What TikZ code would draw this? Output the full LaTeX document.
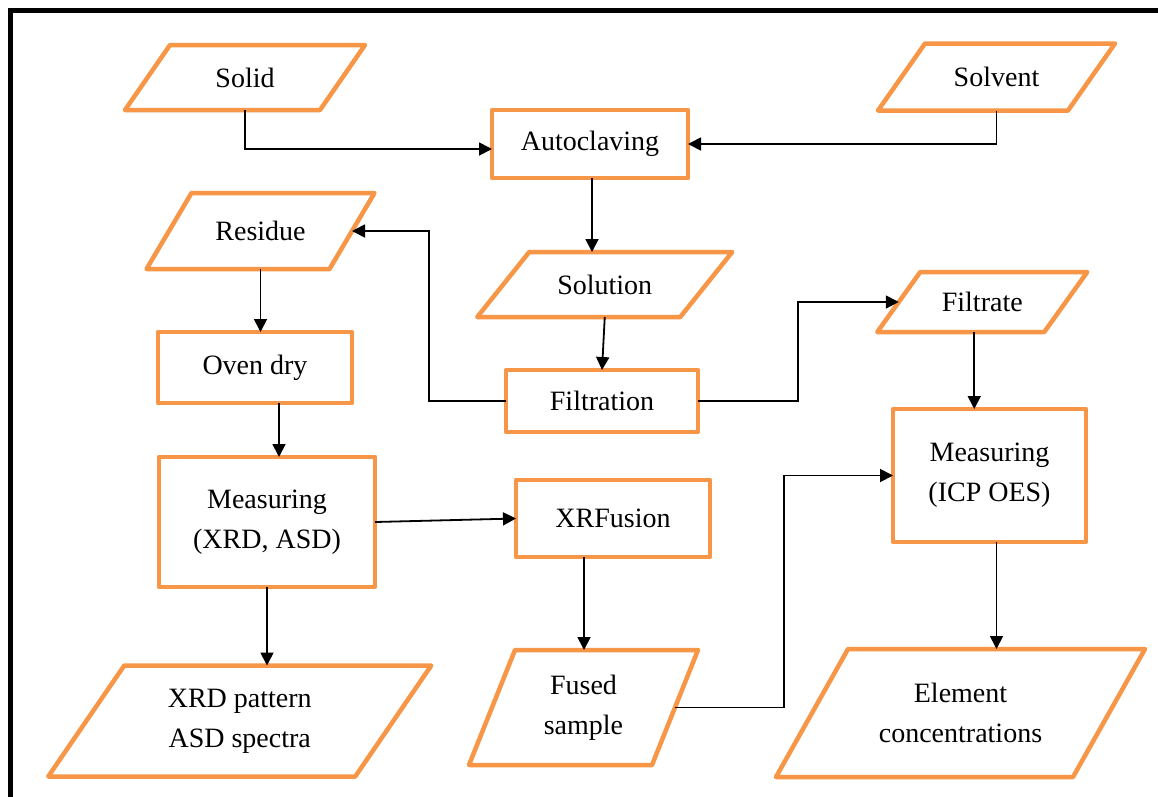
\documentclass[tikz,border=0pt]{standalone}
\usepackage{fontspec}
\setmainfont{Liberation Serif}
\usetikzlibrary{arrows.meta,calc}
\definecolor{boxorange}{HTML}{F79646}
\tikzset{
  obox/.style={draw=boxorange, line width=4.5pt, line join=round},
  rbox/.style={obox, rectangle, outer sep=0pt, inner sep=2pt, align=center,
    font=\rmfamily\fontsize{28}{40}\selectfont},
  ptext/.style={rectangle, draw=none, outer sep=0pt, inner sep=2pt, align=center,
    font=\rmfamily\fontsize{28}{40}\selectfont},
  conn/.style={line width=1.8pt, -{Triangle[length=13pt,width=13pt]}},
  frameline/.style={line width=5pt, draw=black}
}
% name, center, side width, height, half offset, text
\newcommand\parabox[6]{%
  \node[ptext, minimum width=#3pt, minimum height=#4pt] (#1) at (#2) {#6};
  \draw[obox] ($(#1.south west)+(-#5,0)$) -- ($(#1.south east)+(-#5,0)$)
    -- ($(#1.north east)+(#5,0)$) -- ($(#1.north west)+(#5,0)$) -- cycle;
}
\begin{document}
\begin{tikzpicture}[x=1pt,y=-1pt]
\clip (0,0) rectangle (1158,796);
\fill[white] (0,0) rectangle (1158,796);
\draw[frameline] (10.5,10.5) rectangle (1200,850);

% input/output parallelograms
\parabox{solid}{245,77.5}{195}{65}{22.5}{Solid}
\parabox{solvent}{996.5,77}{190}{67}{23.5}{Solvent}
\parabox{res}{260.5,231}{183}{76}{22.5}{Residue}
\parabox{sol}{604.75,284.5}{203}{65}{26}{Solution}
\parabox{filtrate}{982.25,302}{167}{60}{21.5}{Filtrate}
\parabox{xrdp}{239.75,721}{307}{111}{38}{XRD pattern\\ASD spectra}
\parabox{fused}{583.5,707.5}{183}{115}{23}{Fused\\sample}
\parabox{elem}{960.5,713}{297}{128}{36}{Element\\concentrations}

% process boxes
\node[rbox, minimum width=196pt, minimum height=68pt] (auto) at (590,144) {Autoclaving};
\node[rbox, minimum width=192pt, minimum height=62pt] (filt) at (602,401) {Filtration};
\node[rbox, minimum width=194pt, minimum height=71pt] (oven) at (255,367.5) {Oven dry};
\node[rbox, minimum width=216pt, minimum height=130pt] (mxrd) at (267,522) {Measuring\\(XRD, ASD)};
\node[rbox, minimum width=194pt, minimum height=77pt] (xrf) at (613,518.5) {XRFusion};
\node[rbox, minimum width=193pt, minimum height=133pt] (icp) at (989.5,475.5) {Measuring\\(ICP OES)};

% connectors
\draw[conn] (solid.south) |- ([yshift=-5pt]auto.west);
\draw[conn] (solvent.south) |- (auto.east);
\draw[conn] ([xshift=2pt]auto.south) -- ([xshift=2pt]auto.south |- sol.north);
\draw[conn] (sol.south) -- (filt.north);
\draw[conn] (filt.west) -- ++(-77,0) |- (res.east);
\draw[conn] (filt.east) -- ++(100,0) |- (filtrate.west);
\draw[conn] (res.south) -- (res.south |- oven.north);
\draw[conn] ([xshift=24pt]oven.south) -- ([xshift=24pt]oven.south |- mxrd.north);
\draw[conn] (mxrd.south) -- (mxrd.south |- xrdp.north);
\draw[conn] (mxrd.east) -- (xrf.west);
\draw[conn] ([xshift=-29pt]xrf.south) -- ([xshift=-29pt]xrf.south |- fused.north);
\draw[conn] (fused.east) -- ++(109,0) |- (icp.west);
\draw[conn] ([xshift=-8pt]filtrate.south) -- ([xshift=-8pt]filtrate.south |- icp.north);
\draw[conn] ([xshift=7pt]icp.south) -- ([xshift=7pt]icp.south |- elem.north);
\end{tikzpicture}
\end{document}
